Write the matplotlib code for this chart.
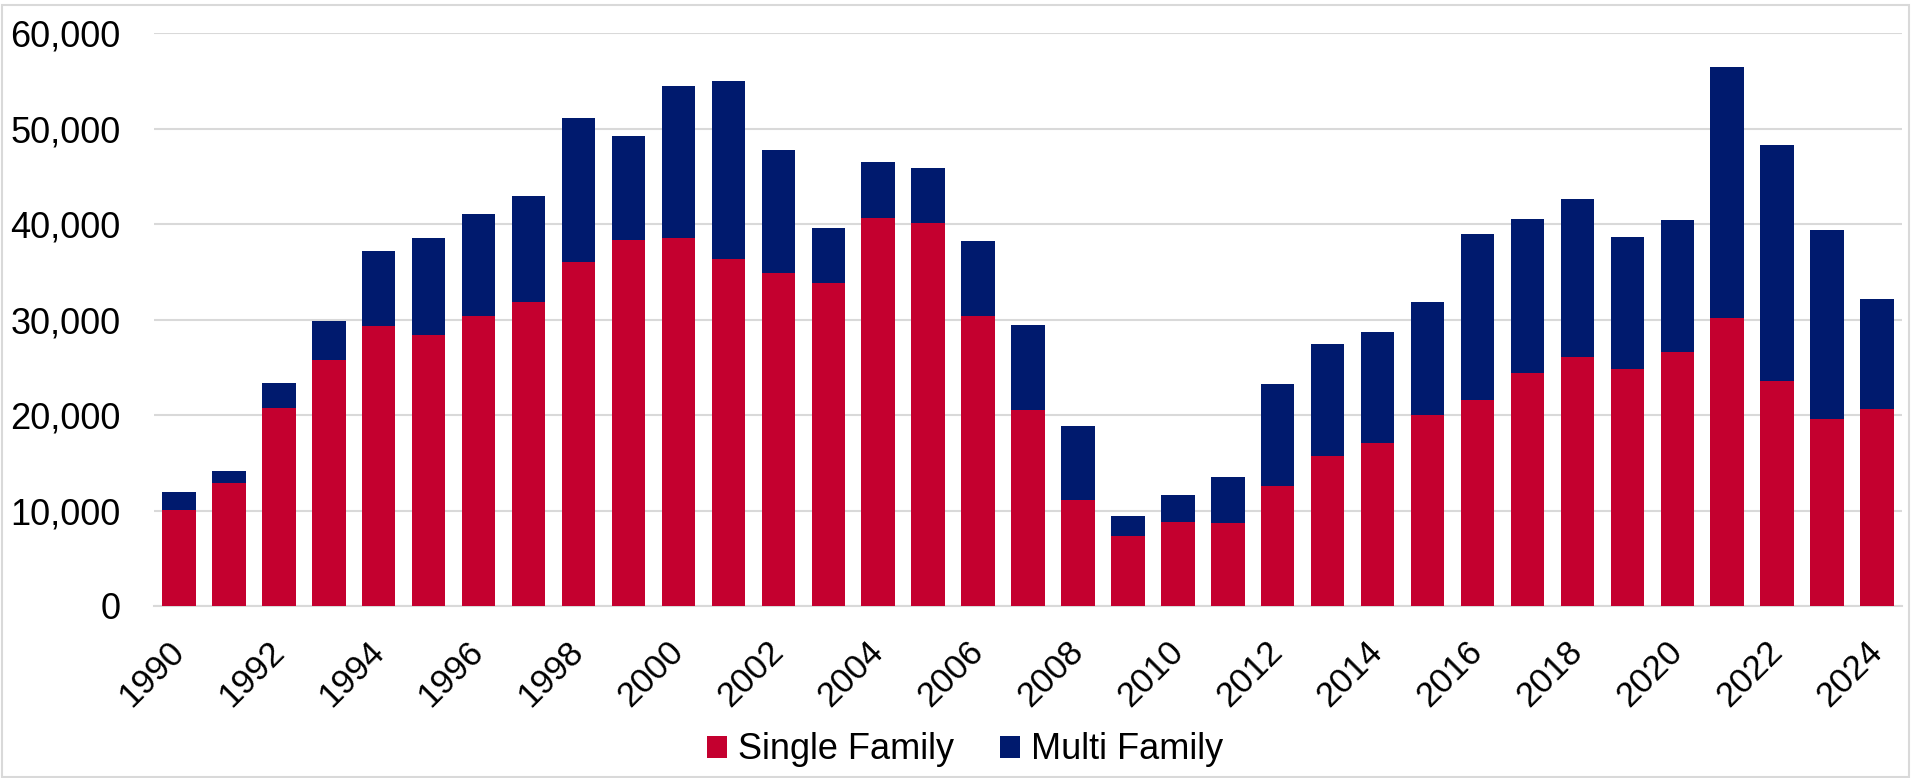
import numpy as np
import matplotlib
matplotlib.use('Agg')
import matplotlib.pyplot as plt
from matplotlib.patches import Rectangle

plt.rcParams['font.family'] = ['Liberation Sans', 'DejaVu Sans']

# Datos: permisos de vivienda por año
years = list(range(1990, 2025))
single_family = [10100, 12900, 20700, 25800, 29300, 28400, 30400, 31900, 36100, 38400,
                 38600, 36400, 34900, 33800, 40700, 40100, 30400, 20500, 11100, 7300,
                 8800, 8700, 12600, 15700, 17100, 20000, 21600, 24400, 26100, 24800,
                 26600, 30200, 23600, 19600, 20600]
total_units = [11900, 14100, 23400, 29900, 37200, 38600, 41100, 43000, 51100, 49300,
               54500, 55000, 47800, 39600, 46500, 45900, 38300, 29400, 18900, 9400,
               11600, 13500, 23300, 27500, 28700, 31900, 39000, 40600, 42600, 38700,
               40500, 56500, 48300, 39400, 32200]
multi_family = [t - s for t, s in zip(total_units, single_family)]

red = '#C4002F'
navy = '#001A6E'

fig = plt.figure(figsize=(19.11, 7.78), dpi=100)
ax = fig.add_axes([0.0806, 0.2211, 0.9147, 0.7359])

# bordo grigio attorno al grafico
fig.patches.append(Rectangle((0.001, 0.001), 0.998, 0.992, transform=fig.transFigure,
                             fill=False, edgecolor='#d9d9d9', lw=1.5))

x = np.arange(len(years))
ax.bar(x, single_family, width=0.67, color=red, label='Single Family', zorder=3)
ax.bar(x, multi_family, width=0.67, bottom=single_family, color=navy,
       label='Multi Family', zorder=3)

ax.set_xlim(-0.5, len(years) - 0.5)
ax.set_ylim(0, 60000)
ax.set_yticks(range(0, 60001, 10000))
ax.set_yticklabels([f'{v:,}' for v in range(0, 60001, 10000)], fontsize=26)
ax.yaxis.grid(True, color='#d9d9d9', lw=1.5, zorder=0)
ax.set_axisbelow(True)

ax.set_xticks(x[::2])
ax.set_xticklabels([str(y) for y in years[::2]], fontsize=25, rotation=45,
                   ha='right', va='center', rotation_mode='anchor')

ax.tick_params(axis='both', length=0)
ax.tick_params(axis='y', pad=24)
ax.tick_params(axis='x', pad=29)

for s in ['top', 'right', 'left']:
    ax.spines[s].set_visible(False)
ax.spines['bottom'].set_color('#d9d9d9')
ax.spines['bottom'].set_linewidth(1.5)

fig.legend(loc='center', bbox_to_anchor=(0.505, 0.036), ncol=2, frameon=False,
           fontsize=26, handlelength=0.55, handleheight=0.55, handletextpad=0.3,
           columnspacing=1.27)

fig.savefig('out.png', dpi=100)
